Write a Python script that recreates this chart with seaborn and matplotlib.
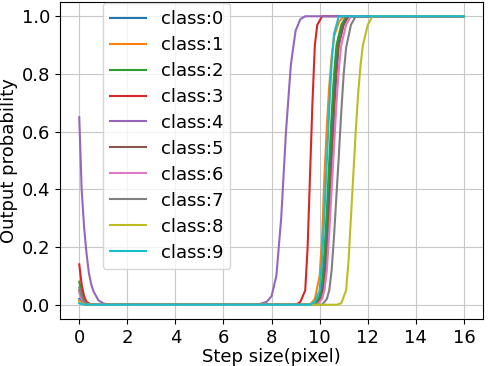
import pandas as pd
import numpy as np
import matplotlib
matplotlib.use("Agg")
import matplotlib.pyplot as plt
import seaborn as sns

# points, per class: (step size, output probability)
x0 = [0.0, 0.1, 0.2, 0.3, 0.5, 9.6, 9.8, 10.0, 10.1, 10.2, 10.3, 10.4, 10.5, 10.6, 10.7, 10.8, 11.0, 11.2, 16.0]
y0 = [0.02, 0.01, 0.004, 0.001, 0.0, 0.0, 0.0, 0.02, 0.05, 0.12, 0.25, 0.42, 0.58, 0.73, 0.85, 0.93, 0.98, 1.0, 1.0]

x1 = [0.0, 0.1, 0.2, 0.4, 9.6, 9.8, 10.0, 10.1, 10.2, 10.3, 10.4, 10.5, 10.6, 10.8, 11.0, 16.0]
y1 = [0.015, 0.006, 0.002, 0.0, 0.0, 0.02, 0.1, 0.23, 0.45, 0.62, 0.76, 0.86, 0.93, 0.98, 1.0, 1.0]

x2 = [0.0, 0.1, 0.2, 0.3, 0.5, 9.6, 9.8, 10.0, 10.1, 10.2, 10.3, 10.4, 10.5, 10.6, 10.7, 10.9, 11.1, 16.0]
y2 = [0.08, 0.04, 0.015, 0.005, 0.0, 0.0, 0.0, 0.03, 0.08, 0.18, 0.33, 0.5, 0.66, 0.8, 0.9, 0.97, 1.0, 1.0]

x3 = [0.0, 0.1, 0.2, 0.3, 0.5, 9.0, 9.2, 9.4, 9.5, 9.6, 9.7, 9.8, 9.9, 10.1, 16.0]
y3 = [0.14, 0.07, 0.03, 0.01, 0.0, 0.0, 0.01, 0.05, 0.2, 0.45, 0.7, 0.9, 0.97, 1.0, 1.0]

x4 = [0.0, 0.1, 0.2, 0.3, 0.4, 0.5, 0.6, 0.8, 1.0, 1.2, 7.4, 7.8, 8.0, 8.2, 8.4, 8.6, 8.8, 9.0, 9.2, 9.4, 16.0]
y4 = [0.65, 0.4, 0.27, 0.18, 0.11, 0.07, 0.045, 0.015, 0.005, 0.0, 0.0, 0.01, 0.03, 0.1, 0.3, 0.6, 0.83, 0.95, 0.99, 1.0, 1.0]

x5 = [0.0, 0.1, 0.2, 0.3, 0.5, 9.7, 9.9, 10.1, 10.2, 10.3, 10.4, 10.5, 10.6, 10.7, 10.8, 11.0, 11.2, 16.0]
y5 = [0.05, 0.025, 0.01, 0.003, 0.0, 0.0, 0.0, 0.03, 0.08, 0.18, 0.33, 0.5, 0.66, 0.8, 0.9, 0.97, 1.0, 1.0]

x6 = [0.0, 0.1, 0.2, 0.3, 0.5, 9.7, 9.9, 10.1, 10.2, 10.3, 10.4, 10.5, 10.6, 10.7, 10.8, 10.9, 11.1, 11.3, 16.0]
y6 = [0.04, 0.02, 0.008, 0.002, 0.0, 0.0, 0.0, 0.02, 0.05, 0.12, 0.25, 0.4, 0.55, 0.7, 0.82, 0.9, 0.97, 1.0, 1.0]

x7 = [0.0, 0.1, 0.2, 0.3, 0.5, 9.9, 10.1, 10.3, 10.4, 10.5, 10.6, 10.7, 10.8, 10.9, 11.0, 11.1, 11.3, 11.5, 16.0]
y7 = [0.06, 0.03, 0.012, 0.004, 0.0, 0.0, 0.0, 0.02, 0.05, 0.12, 0.24, 0.38, 0.52, 0.67, 0.8, 0.89, 0.97, 1.0, 1.0]

x8 = [0.0, 0.1, 0.2, 0.4, 10.7, 10.9, 11.1, 11.2, 11.3, 11.4, 11.5, 11.6, 11.7, 11.8, 12.0, 12.2, 16.0]
y8 = [0.01, 0.004, 0.001, 0.0, 0.0, 0.005, 0.05, 0.15, 0.3, 0.45, 0.6, 0.73, 0.83, 0.9, 0.97, 1.0, 1.0]

x9 = [0.0, 0.1, 0.3, 9.6, 9.8, 10.0, 10.1, 10.2, 10.3, 10.4, 10.5, 10.6, 10.8, 16.0]
y9 = [0.005, 0.002, 0.0, 0.0, 0.01, 0.05, 0.15, 0.32, 0.5, 0.68, 0.84, 0.94, 1.0, 1.0]

xs = [x0, x1, x2, x3, x4, x5, x6, x7, x8, x9]
ys = [y0, y1, y2, y3, y4, y5, y6, y7, y8, y9]
labels = ["class:%d" % i for i in range(10)]

frames = []
for lab, xx, yy in zip(labels, xs, ys):
    frames.append(pd.DataFrame({"step": xx, "prob": yy, "cls": lab}))
df = pd.concat(frames, ignore_index=True)

plt.rcParams["font.size"] = 13
fig = plt.figure(figsize=(4.88, 3.66), dpi=100)
ax = fig.add_axes([0.123, 0.128, 0.867, 0.867])

sns.lineplot(data=df, x="step", y="prob", hue="cls", palette="tab10",
             estimator=None, sort=True, linewidth=1.5, ax=ax)

ax.set_xticks(np.arange(0, 17, 2))
ax.set_yticks([0.0, 0.2, 0.4, 0.6, 0.8, 1.0])
ax.set_xlim(-0.8, 16.8)
ax.set_ylim(-0.05, 1.05)
ax.grid(True, color="#c8c8c8", linewidth=0.8)
ax.set_axisbelow(True)
ax.set_xlabel("Step size(pixel)", labelpad=0.5)
ax.set_ylabel("Output probability", labelpad=3)
ax.legend(title=None, loc="upper left", bbox_to_anchor=(0.101, 0.997),
          borderaxespad=0, labelspacing=0.44)

fig.savefig("out.png", dpi=100)
